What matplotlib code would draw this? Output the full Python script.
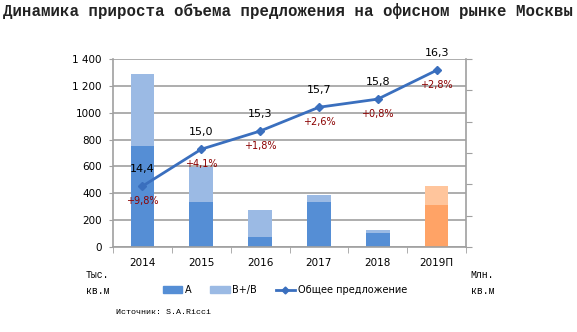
import numpy as np
import matplotlib.pyplot as plt
from matplotlib.lines import Line2D
from matplotlib.patches import Patch

years = ['2014', '2015', '2016', '2017', '2018', '2019П']
class_a = [750, 335, 77, 335, 107, 315]
class_b = [540, 260, 198, 55, 20, 139]
total_supply = [14.47, 15.06, 15.35, 15.73, 15.86, 16.32]
total_labels = ['14,4', '15,0', '15,3', '15,7', '15,8', '16,3']
growth_labels = ['+9,8%', '+4,1%', '+1,8%', '+2,6%', '+0,8%', '+2,8%']

col_a = ['#558ED5'] * 5 + ['#FFA366']
col_b = ['#9BBAE4'] * 5 + ['#FFC59C']
line_col = '#3A6FBE'
grid_col = '#A0A0A0'

fig = plt.figure(figsize=(5.77, 3.32), dpi=100)
ax = fig.add_axes([113 / 577, 85 / 332, 353 / 577, 188 / 332])
x = np.arange(len(years))

ax.bar(x, class_a, width=0.4, color=col_a, zorder=2)
ax.bar(x, class_b, width=0.4, bottom=class_a, color=col_b, zorder=2)

ax.set_xlim(-0.5, len(years) - 0.5)
ax.set_ylim(0, 1400)
ax.set_yticks(np.arange(0, 1401, 200))
ax.set_yticklabels(['0', '200', '400', '600', '800', '1000', '1 200', '1 400'], fontsize=7.5)
ax.yaxis.grid(True, color=grid_col, linewidth=1.2)
ax.set_axisbelow(True)
ax.set_xticks(x)
ax.set_xticklabels(years, fontsize=7.5)
ax.set_xticks(np.arange(-0.5, len(years)), minor=True)
ax.tick_params(axis='x', which='major', length=0, pad=8)
ax.tick_params(axis='x', which='minor', length=4, color=grid_col)
ax.tick_params(axis='y', length=3, color=grid_col, pad=5)
for s in ['top', 'right']:
    ax.spines[s].set_visible(False)
for s in ['left', 'bottom']:
    ax.spines[s].set_color(grid_col)
    ax.spines[s].set_linewidth(1.2)

ax2 = ax.twinx()
ax2.plot(x, total_supply, color=line_col, linewidth=2, marker='D', markersize=4, zorder=3)
ax2.set_ylim(13.5, 16.5)
ax2.set_yticks(np.arange(13.5, 16.51, 0.5))
ax2.set_yticklabels([])
ax2.tick_params(axis='y', length=4, color=grid_col)
for s in ['top', 'left', 'bottom']:
    ax2.spines[s].set_visible(False)
ax2.spines['right'].set_color(grid_col)
ax2.spines['right'].set_linewidth(1.2)

for xi, v, t, g in zip(x, total_supply, total_labels, growth_labels):
    ax2.annotate(t, (xi, v), xytext=(0, 9), textcoords='offset points',
                 ha='center', va='bottom', fontsize=8, color='black')
    ax2.annotate(g, (xi, v), xytext=(0, -7), textcoords='offset points',
                 ha='center', va='top', fontsize=7, color='#8B0000')

fig.text(3 / 577, 1 - 11 / 332, 'Динамика прироста объема предложения на офисном рынке Москвы',
         fontsize=11.3, family='Liberation Mono', fontweight='bold', color='#222222', va='center')
fig.text(86 / 577, 1 - 283 / 332, 'Тыс.\nкв.м', fontsize=7, family='Liberation Mono',
         va='center', ha='left', linespacing=1.8)
fig.text(494 / 577, 1 - 283 / 332, 'Млн.\nкв.м', fontsize=7, family='Liberation Mono',
         va='center', ha='right', linespacing=1.8)
fig.text(116 / 577, 1 - 313 / 332, 'Источник: S.A.Ricci', fontsize=6, family='Liberation Mono',
         va='center', ha='left')

handles = [Patch(color='#558ED5'), Patch(color='#9BBAE4'),
           Line2D([0], [0], color=line_col, linewidth=2, marker='D', markersize=3.5)]
fig.legend(handles, ['А', 'В+/В', 'Общее предложение'], loc='center', ncol=3,
           bbox_to_anchor=(285 / 577, 1 - 290 / 332), frameon=False, fontsize=7,
           handlelength=2.0, handleheight=0.6, columnspacing=1.9, handletextpad=0.3)

fig.savefig('out.png', dpi=100)
